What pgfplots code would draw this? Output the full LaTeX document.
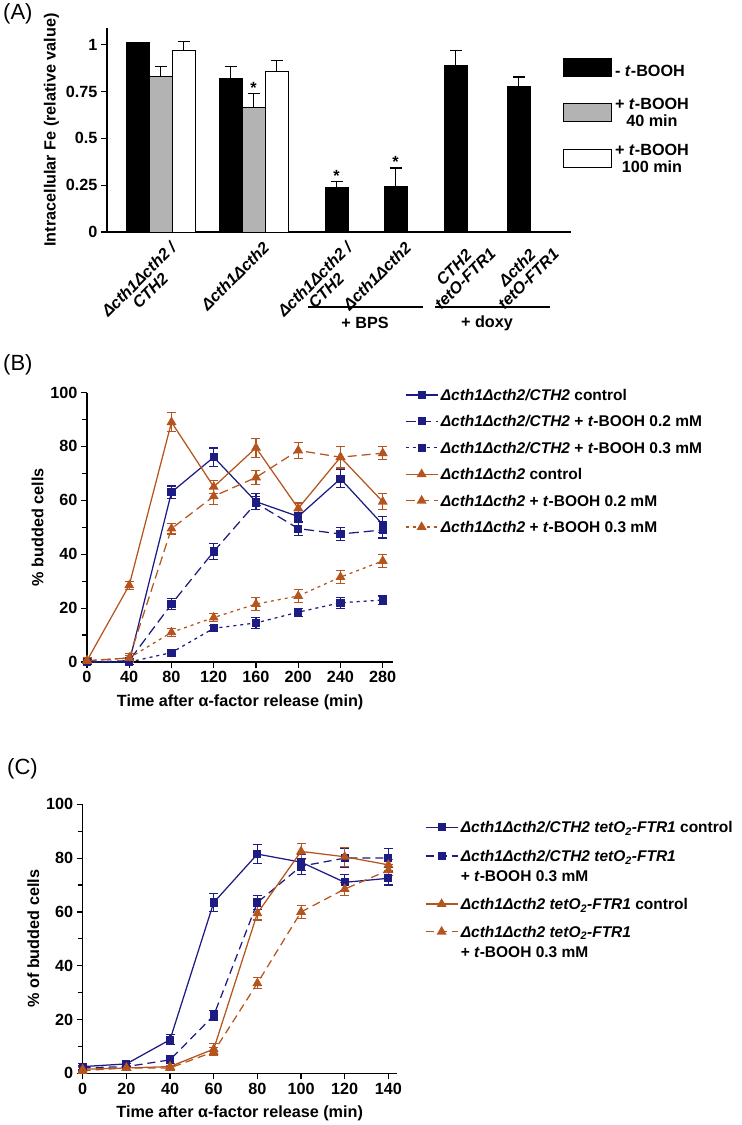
\documentclass[border=0pt]{standalone}
\usepackage{fontspec}
\setmainfont{Liberation Sans}
\usepackage{pgfplots}
\pgfplotsset{compat=1.18}
\definecolor{bl}{RGB}{28,28,130}
\definecolor{orn}{RGB}{182,84,30}
\definecolor{gr}{RGB}{179,179,179}
\newcommand\fs{\fontsize{16.2bp}{16bp}\selectfont}
\newcommand\fl{\fontsize{15.5bp}{16bp}\selectfont}
\newcommand\st[2]{\rule[-#2]{0pt}{\dimexpr #1+#2\relax}}
\renewcommand\arraystretch{0.95}
\pgfplotsset{
  panel/.style={scale only axis, axis lines*=left, clip=false,
    axis line style={line width=1.5bp, black},
    tick align=outside, major tick length=6bp, minor tick length=5bp,
    tick style={black, line width=1.2bp},
    tick label style={font=\fs\bfseries},
    label style={font=\fs\bfseries},
    /pgf/number format/assume math mode=true},
  err/.style={error bars/y dir=both, error bars/y explicit,
    error bars/error bar style={solid, line width=1.1bp},
    error bars/error mark options={rotate=90, mark size=4.5bp, line width=1.1bp, solid}},
  sq/.style={bl, line width=1.25bp, mark=square*, mark size=3.4bp, mark options={solid, fill=bl}, err},
  tr/.style={orn, line width=1.25bp, mark=triangle*, mark size=4.5bp, mark options={solid, fill=orn}, err},
  lnleg/.style={legend cell align=left,
    legend style={draw=none, fill=none, inner sep=0pt, outer sep=0pt, row sep=0pt, column sep=2.5bp,
      anchor=north west, font=\fl\bfseries, cells={anchor=base west}, nodes={inner sep=0pt, text depth=}},
    legend image code/.code={\draw[mark repeat=2,mark phase=2,##1] plot coordinates {(0bp,5.5bp) (16bp,5.5bp) (32bp,5.5bp)};}},
  abox/.style={legend image code/.code={\draw[##1] (0bp,-12bp) rectangle (48bp,6bp);}},
  barerr/.style={error bars/y dir=plus, error bars/y explicit,
    error bars/error bar style={line width=1.2bp, black},
    error bars/error mark options={rotate=90, mark size=6bp, line width=1.2bp, black}},
}
\begin{document}
\begin{tikzpicture}[x=1bp,y=1bp]
\useasboundingbox (0,0) rectangle (742,-1125);
\tikzset{xl/.style={rotate=45, anchor=north east, align=center, inner sep=0pt, font=\fs\bfseries\itshape}}
% ---------------- Panel A
\begin{axis}[panel, at={(107bp,-232bp)}, anchor=south west, width=464bp, height=204bp,
  xmin=0, xmax=464, ymin=0, ymax=1.089,
  xtick=\empty, ytick={0,0.25,0.5,0.75,1}, yticklabels={0,0.25,0.5,0.75,1},
  ylabel={Intracellular Fe (relative value)},
  legend cell align=left,
  legend style={draw=none, fill=none, inner sep=0pt, outer sep=0pt, row sep=13bp, column sep=3bp,
    at={(axis description cs:0.9828,0.8775)}, anchor=north west, font=\fs\bfseries,
    cells={anchor=base west}, nodes={inner sep=0pt, text depth=}}]
\addplot[ybar, bar width=23, bar shift=0pt, fill=black, draw=black, line width=1bp, barerr, abox]
  coordinates {(30.5,1.01) +- (0,0) (123.5,0.82) +- (0,0.065) (229.5,0.235) +- (0,0.035)
               (288.5,0.242) +- (0,0.10) (348.5,0.89) +- (0,0.08) (411.5,0.775) +- (0,0.052)};
\addlegendentry{\st{12bp}{20bp}\raisebox{-12bp}{- \textit{t}-BOOH}}
\addplot[ybar, bar width=23, bar shift=0pt, fill=gr, draw=black, line width=1bp, barerr, abox]
  coordinates {(53.5,0.83) +- (0,0.055) (146.5,0.665) +- (0,0.073)};
\addlegendentry{\st{12bp}{20bp}\begin{tabular}[t]{@{}c@{}}+ \textit{t}-BOOH\\40 min\end{tabular}}
\addplot[ybar, bar width=23, bar shift=0pt, fill=white, draw=black, line width=1bp, barerr, abox]
  coordinates {(76.5,0.97) +- (0,0.045) (169.5,0.855) +- (0,0.06)};
\addlegendentry{\st{12bp}{20bp}\begin{tabular}[t]{@{}c@{}}+ \textit{t}-BOOH\\100 min\end{tabular}}
\node[font=\fs\bfseries, anchor=base, inner sep=0pt] at (axis cs:146.5,0.742) {*};
\node[font=\fs\bfseries, anchor=base, inner sep=0pt] at (axis cs:229.5,0.272) {*};
\node[font=\fs\bfseries, anchor=base, inner sep=0pt] at (axis cs:288.5,0.344) {*};
\node[xl, yshift=-12bp] at (axis cs:53.5,0) {Δcth1Δcth2 /\\CTH2};
\node[xl, yshift=-12bp] at (axis cs:146.5,0) {Δcth1Δcth2};
\node[xl, yshift=-12bp] at (axis cs:229.5,0) {Δcth1Δcth2 /\\CTH2};
\node[xl, yshift=-12bp] at (axis cs:288.5,0) {Δcth1Δcth2};
\node[xl, xshift=13bp, yshift=-18bp] at (axis cs:348.5,0) {CTH2\\tetO-FTR1};
\node[xl, xshift=13bp, yshift=-18bp] at (axis cs:411.5,0) {Δcth2\\tetO-FTR1};
\end{axis}
\draw[line width=1.2bp] (308,-307) -- (423,-307);
\node[font=\fs\bfseries] at (365,-323) {+ BPS};
\draw[line width=1.2bp] (435,-307) -- (550,-307);
\node[font=\fs\bfseries] at (487,-323) {+ doxy};
\node[font=\fontsize{22bp}{22bp}\selectfont, anchor=west, inner sep=0pt] at (3,-14) {(A)};
% ---------------- Panel B
\begin{axis}[panel, lnleg, at={(87bp,-662bp)}, anchor=south west, width=306.3bp, height=269.5bp,
  xmin=0, xmax=290, ymin=0, ymax=100,
  xtick={0,40,...,280}, ytick={0,20,...,100}, minor ytick={10,30,...,90},
  xlabel={Time after α-factor release (min)}, ylabel={\% budded cells},
  xlabel style={yshift=-5bp},
  legend style={at={(axis description cs:1.0382,1.0148)}}]
\addplot[sq] coordinates {(0,0) +- (0,1) (40,0) +- (0,0.8) (80,63) +- (0,2.3) (120,76) +- (0,3.4)
  (160,59.5) +- (0,3) (200,54) +- (0,2.2) (240,68) +- (0,3.3) (280,51) +- (0,3)};
\addlegendentry{\st{12bp}{14.4bp}\textit{Δcth1Δcth2/CTH2} control}
\addplot[sq, dash pattern=on 10bp off 5bp] coordinates {(0,0) +- (0,1) (40,0.5) +- (0,0.8) (80,21.5) +- (0,2) (120,41) +- (0,3)
  (160,59) +- (0,2.5) (200,49.5) +- (0,2.5) (240,47.5) +- (0,2.5) (280,49) +- (0,3)};
\addlegendentry{\st{12bp}{14.4bp}\textit{Δcth1Δcth2/CTH2} + \textit{t}-BOOH 0.2 mM}
\addplot[sq, dash pattern=on 3bp off 4bp] coordinates {(0,0) +- (0,1) (40,0) +- (0,0.8) (80,3.5) +- (0,1) (120,12.5) +- (0,1)
  (160,14.5) +- (0,2) (200,18.5) +- (0,1.5) (240,22) +- (0,2) (280,23) +- (0,1.5)};
\addlegendentry{\st{12bp}{14.4bp}\textit{Δcth1Δcth2/CTH2} + \textit{t}-BOOH 0.3 mM}
\addplot[tr] coordinates {(0,0.5) +- (0,1) (40,28.5) +- (0,1.5) (80,89) +- (0,3.5) (120,65) +- (0,2.5)
  (160,79.5) +- (0,3.5) (200,57) +- (0,2) (240,76) +- (0,4) (280,59.5) +- (0,3)};
\addlegendentry{\st{12bp}{14.4bp}\textit{Δcth1Δcth2} control}
\addplot[tr, dash pattern=on 9bp off 5bp] coordinates {(0,0.5) +- (0,1) (40,1.5) +- (0,1) (80,49.5) +- (0,2) (120,61.5) +- (0,3)
  (160,68.5) +- (0,2.5) (200,78.5) +- (0,3) (240,76) +- (0,4) (280,77.5) +- (0,2.5)};
\addlegendentry{\st{12bp}{14.4bp}\textit{Δcth1Δcth2} + \textit{t}-BOOH 0.2 mM}
\addplot[tr, dash pattern=on 3bp off 4bp] coordinates {(0,0.5) +- (0,1) (40,1.5) +- (0,1.5) (80,11) +- (0,1.5) (120,16.5) +- (0,1.5)
  (160,21.5) +- (0,2.5) (200,24.5) +- (0,2.5) (240,31.5) +- (0,2.5) (280,37.5) +- (0,2.5)};
\addlegendentry{\st{12bp}{14.4bp}\textit{Δcth1Δcth2} + \textit{t}-BOOH 0.3 mM}
\end{axis}
\node[font=\fontsize{22bp}{22bp}\selectfont, anchor=west, inner sep=0pt] at (3,-365) {(B)};
% ---------------- Panel C
\begin{axis}[panel, lnleg, at={(82.7bp,-1073.3bp)}, anchor=south west, width=314bp, height=269bp,
  xmin=0, xmax=143.8, ymin=0, ymax=100,
  xtick={0,20,...,140}, ytick={0,20,...,100}, minor ytick={10,30,...,90},
  xlabel={Time after α-factor release (min)}, ylabel={\% of budded cells},
  xlabel style={yshift=-5bp},
  legend style={at={(axis description cs:1.0901,0.9387)}}]
\addplot[sq] coordinates {(0,2.5) +- (0,1) (20,3.5) +- (0,1) (40,12.5) +- (0,1.8) (60,63.5) +- (0,3.5)
  (80,81.5) +- (0,3.5) (100,78.5) +- (0,3) (120,71) +- (0,3) (140,72.5) +- (0,2.5)};
\addlegendentry{\st{12bp}{16.7bp}\textit{Δcth1Δcth2/CTH2 tetO\textsubscript{2}-FTR1} control}
\addplot[sq, dash pattern=on 8bp off 5bp] coordinates {(0,2) +- (0,1) (20,2.5) +- (0,1) (40,5) +- (0,1.5) (60,21.5) +- (0,2)
  (80,63.5) +- (0,2.5) (100,77) +- (0,3) (120,80) +- (0,3.5) (140,80) +- (0,3.5)};
\addlegendentry{\st{12bp}{8bp}\textit{Δcth1Δcth2/CTH2 tetO\textsubscript{2}-FTR1}}
\addlegendimage{empty legend}
\addlegendentry{\st{12bp}{16bp}+ \textit{t}-BOOH 0.3 mM}
\addplot[tr] coordinates {(0,1.5) +- (0,1) (20,2) +- (0,1) (40,2.5) +- (0,1) (60,9) +- (0,2)
  (80,59.5) +- (0,2.5) (100,82.5) +- (0,3) (120,80.5) +- (0,3.5) (140,77.5) +- (0,2)};
\addlegendentry{\st{12bp}{15.7bp}\textit{Δcth1Δcth2 tetO\textsubscript{2}-FTR1} control}
\addplot[tr, dash pattern=on 8bp off 5bp] coordinates {(0,1) +- (0,1) (20,2) +- (0,1) (40,2) +- (0,1) (60,8) +- (0,1.5)
  (80,33.5) +- (0,2) (100,60) +- (0,2.5) (120,68.5) +- (0,2.5) (140,75.5) +- (0,2)};
\addlegendentry{\st{12bp}{8bp}\textit{Δcth1Δcth2 tetO\textsubscript{2}-FTR1}}
\addlegendimage{empty legend}
\addlegendentry{\st{12bp}{4bp}+ \textit{t}-BOOH 0.3 mM}
\end{axis}
\node[font=\fontsize{22bp}{22bp}\selectfont, anchor=west, inner sep=0pt] at (7,-769) {(C)};
\end{tikzpicture}
\end{document}
